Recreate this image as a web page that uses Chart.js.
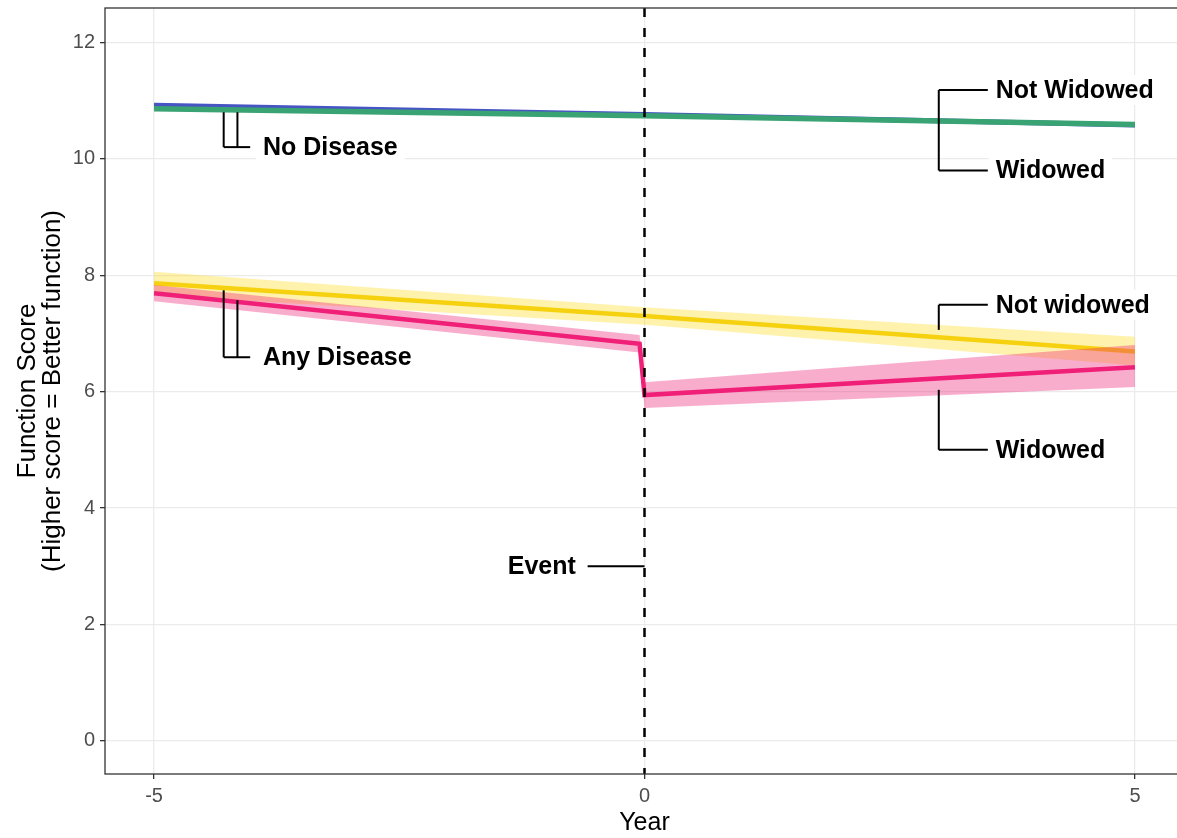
<!DOCTYPE html>
<html>
<head>
<meta charset="utf-8">
<script src="https://cdn.jsdelivr.net/npm/chart.js@4.4.1/dist/chart.umd.min.js"></script>
<style>
  html, body { margin: 0; padding: 0; background: #fff; overflow: hidden; }
  #wrap { position: relative; width: 1200px; height: 838px; }
</style>
</head>
<body>
<div id="wrap"><canvas id="chart"></canvas></div>
<script>
// ── Data ──────────────────────────────────────────────────────────────
const xTicks = [-5, 0, 5];
const yTicks = [0, 2, 4, 6, 8, 10, 12];

// No disease
const noDiseaseYears       = [-5, 0, 5];
const noDiseaseNotWidowed  = [10.92, 10.76, 10.58];
const noDiseaseWidowed     = [10.86, 10.74, 10.59];

// Any disease, not widowed
const anyNotWidowedYears   = [-5, 0, 5];
const anyNotWidowed        = [7.86, 7.30, 6.69];
const anyNotWidowedLow     = [7.66, 7.15, 6.45];
const anyNotWidowedHigh    = [8.06, 7.45, 6.94];

// Any disease, widowed (drop at the event)
const anyWidowedYears      = [-5, -0.05, 0, 5];
const anyWidowed           = [7.69, 6.82, 5.94, 6.42];
const anyWidowedLow        = [7.55, 6.67, 5.72, 6.08];
const anyWidowedHigh       = [7.83, 6.97, 6.16, 6.80];

const FONT = '"Liberation Sans", Arial, sans-serif';

const pts = (xs, ys) => xs.map((x, i) => ({ x, y: ys[i] }));

// ── Annotations (data units) ──────────────────────────────────────────
const segments = [
    // No Disease bracket
    [-4.29, 10.80, -4.29, 10.20], [-4.15, 10.80, -4.15, 10.20], [-4.29, 10.20, -4.02, 10.20],
    // Any Disease bracket
    [-4.29, 7.74, -4.29, 6.59], [-4.15, 7.57, -4.15, 6.59], [-4.29, 6.59, -4.02, 6.59],
    // right, no disease
    [3, 11.18, 3, 9.80], [3, 11.18, 3.5, 11.18], [3, 9.80, 3.5, 9.80],
    // right, any disease
    [3, 7.49, 3, 7.06], [3, 7.49, 3.5, 7.49], [3, 6.03, 3, 5.00], [3, 5.00, 3.5, 5.00],
    // event
    [-0.58, 3, 0, 3],
];
const labels = [
    { text: "No Disease",  x: -3.89, y: 10.20, align: "left" },
    { text: "Any Disease", x: -3.89, y: 6.59,  align: "left" },
    { text: "Not Widowed", x: 3.58,  y: 11.18, align: "left" },
    { text: "Widowed",     x: 3.58,  y: 9.80,  align: "left" },
    { text: "Not widowed", x: 3.58,  y: 7.49,  align: "left" },
    { text: "Widowed",     x: 3.58,  y: 5.00,  align: "left" },
    { text: "Event",       x: -0.70, y: 3,     align: "right" },
];

const annotPlugin = {
    id: "annot",
    afterDatasetsDraw(chart) {
        const { ctx, scales: { x, y }, chartArea: a } = chart;
        ctx.save();
        // event line
        ctx.strokeStyle = "#000";
        ctx.lineWidth = 2.5;
        ctx.setLineDash([9, 11]);
        ctx.beginPath();
        ctx.moveTo(x.getPixelForValue(0), a.top);
        ctx.lineTo(x.getPixelForValue(0), a.bottom);
        ctx.stroke();
        ctx.setLineDash([]);

        ctx.lineWidth = 2;
        segments.forEach(([x1, y1, x2, y2]) => {
            ctx.beginPath();
            ctx.moveTo(x.getPixelForValue(x1), y.getPixelForValue(y1));
            ctx.lineTo(x.getPixelForValue(x2), y.getPixelForValue(y2));
            ctx.stroke();
        });

        ctx.font = `bold 25px ${FONT}`;
        ctx.textBaseline = "middle";
        labels.forEach(l => {
            const px = x.getPixelForValue(l.x);
            const py = y.getPixelForValue(l.y);
            const w = ctx.measureText(l.text).width;
            const left = l.align === "left" ? px : px - w;
            ctx.fillStyle = "#fff";
            ctx.fillRect(left - 7, py - 15, w + 14, 30);
            ctx.fillStyle = "#000";
            ctx.textAlign = l.align;
            ctx.fillText(l.text, px, py + 1);
        });
        ctx.restore();
    },
    afterDraw(chart) {
        const { ctx, chartArea: a } = chart;
        ctx.save();
        ctx.strokeStyle = "#333";
        ctx.lineWidth = 1.3;
        ctx.strokeRect(a.left, a.top, a.right - a.left, a.bottom - a.top);
        ctx.restore();
    }
};

const line = (data, color, width) => ({
    data, borderColor: color, borderWidth: width, pointRadius: 0,
    fill: false, tension: 0,
});
const band = (data, color, fill) => ({
    data, borderWidth: 0, borderColor: "transparent", pointRadius: 0,
    backgroundColor: color, fill, tension: 0,
});

// listed top-most first (Chart.js draws index 0 last)
const datasets = [
    line(pts(noDiseaseYears, noDiseaseWidowed), "#3aa374", 5.5),
    line(pts(noDiseaseYears, noDiseaseNotWidowed), "#4654c4", 5),
    line(pts(anyWidowedYears, anyWidowed), "#f01f78", 4.5),
    band(pts(anyWidowedYears, anyWidowedHigh), "rgba(240, 40, 120, 0.38)", "+1"),
    band(pts(anyWidowedYears, anyWidowedLow), "transparent", false),
    line(pts(anyNotWidowedYears, anyNotWidowed), "#f6d10f", 4.5),
    band(pts(anyNotWidowedYears, anyNotWidowedHigh), "rgba(255, 220, 40, 0.38)", "+1"),
    band(pts(anyNotWidowedYears, anyNotWidowedLow), "transparent", false),
];

new Chart(document.getElementById("chart"), {
    type: "line",
    data: { datasets },
    plugins: [annotPlugin],
    options: {
        responsive: true,
        maintainAspectRatio: false,
        animation: false,
        events: [],
        layout: { padding: { top: 8, right: 16, left: 0, bottom: 0 } },
        plugins: { legend: { display: false }, tooltip: { enabled: false } },
        scales: {
            x: {
                type: "linear",
                min: -5.5, max: 5.5,
                afterBuildTicks: s => { s.ticks = xTicks.map(v => ({ value: v })); },
                afterFit: s => { s.height = 64; s.paddingLeft = 0; s.paddingRight = 0; },
                border: { display: false },
                grid: { color: "#ebebeb", lineWidth: 1.3, tickLength: 5, tickColor: "#333", tickWidth: 1.3 },
                ticks: { color: "#4d4d4d", font: { family: FONT, size: 20 }, padding: 5, maxRotation: 0 },
                title: { display: true, text: "Year", color: "#000", font: { family: FONT, size: 25, lineHeight: 1.2 }, padding: { top: 0, bottom: 0 } },
            },
            y: {
                min: -0.57, max: 12.59,
                afterBuildTicks: s => { s.ticks = yTicks.map(v => ({ value: v })); },
                afterFit: s => { s.width = 105; s.paddingTop = 0; s.paddingBottom = 0; },
                border: { display: false },
                grid: { color: "#ebebeb", lineWidth: 1.3, tickLength: 5, tickColor: "#333", tickWidth: 1.3 },
                ticks: { color: "#4d4d4d", font: { family: FONT, size: 20 }, padding: 5 },
                title: {
                    display: true,
                    text: ["Function Score", "(Higher score = Better function)"],
                    color: "#000", font: { family: FONT, size: 26, lineHeight: 0.96 },
                    padding: { top: 15, bottom: 0 },
                },
            },
        },
    },
});
</script>
</body>
</html>
